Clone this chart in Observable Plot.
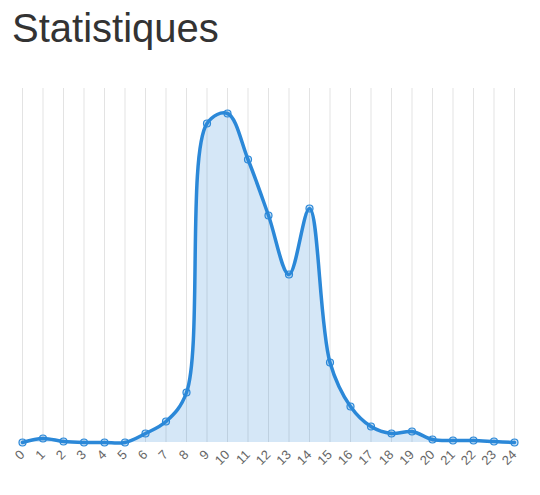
<!DOCTYPE html>
<html><head><meta charset="utf-8">
<script src="https://cdn.jsdelivr.net/npm/d3@7"></script>
<script src="https://cdn.jsdelivr.net/npm/@observablehq/plot@0.6"></script>
<style>
body{margin:0;background:#fff;font-family:"Liberation Sans",Arial,sans-serif;}
h1{margin:0;height:70px;padding-left:12px;font-weight:400;font-size:40px;line-height:56px;color:#333;}
</style></head><body>
<h1>Statistiques</h1>
<div id="chart"></div>
<script>
const hours = d3.range(0, 25);
const counts = [0,4,1,0,0,0,9,21,50,319,329,283,227,168,234,80,36,16,9,11,3,2,2,1,0];
const data = hours.map((h, i) => ({h, v: counts[i]}));
const chart = Plot.plot({
  width: 540, height: 420,
  marginTop: 10, marginBottom: 48, marginLeft: 22, marginRight: 26,
  x: {domain: [0, 24], ticks: hours, tickFormat: d => String(d), tickRotate: -45, tickSize: 0, tickPadding: 10, label: null},
  y: {domain: [0, 362], axis: null},
  style: {fontSize: "13px", color: "#666", fontFamily: "Liberation Sans, Arial, sans-serif"},
  marks: [
    Plot.ruleX(hours, {x: d => d, y1: 0, y2: 362, stroke: "#e3e3e3", strokeOpacity: 1, insetBottom: -8}),
    Plot.areaY(data, {x: "h", y: "v", curve: "catmull-rom", fill: "#2b88d8", fillOpacity: 0.2}),
    Plot.lineY(data, {x: "h", y: "v", curve: "catmull-rom", stroke: "#2b88d8", strokeWidth: 3.5}),
    Plot.dot(data, {x: "h", y: "v", r: 3.5, stroke: "#2b88d8", strokeWidth: 1.2, fill: "#2b88d8", fillOpacity: 0.25})
  ]
});
document.getElementById("chart").append(chart);
</script>
</body></html>
